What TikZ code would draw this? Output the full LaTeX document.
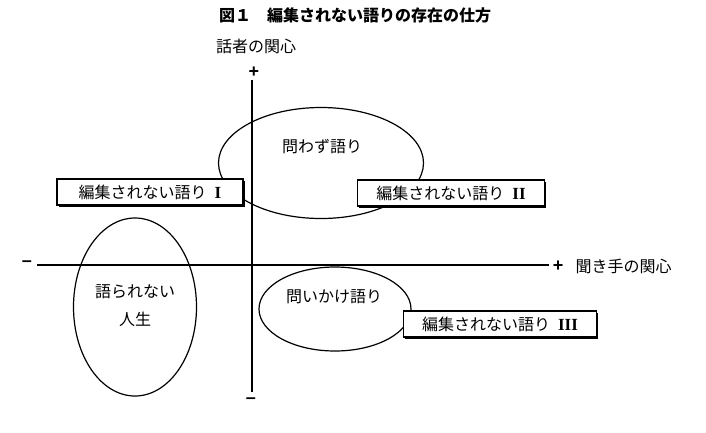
\documentclass[tikz,border=0pt]{standalone}
\usepackage{fontspec}
\newfontfamily\jp{Noto Sans CJK JP}
\newfontfamily\romfont{Liberation Serif}
\newfontfamily\signfont{Liberation Sans}
\usepackage{tikz}
\usetikzlibrary{shapes.geometric, shadows, positioning}
\newcommand{\rom}[1]{{\romfont\bfseries\fontsize{17}{18}\selectfont #1}}

\begin{document}
\begin{tikzpicture}[x=1pt, y=-1pt,
        txt/.style={font=\jp\fontsize{16}{18}\selectfont, inner sep=0pt},
        sign/.style={font=\signfont\bfseries\fontsize{18}{18}\selectfont, inner sep=0pt},
        oval/.style={ellipse, draw, line width=1.2pt, inner sep=0pt},
        namebox/.style={rectangle, draw, line width=1.1pt, fill=white, minimum height=26pt, inner sep=0pt,
            font=\jp\fontsize{16}{18}\selectfont,
            drop shadow={shadow xshift=1.8pt, shadow yshift=-1.8pt, fill=black, opacity=1}},
        axis/.style={draw, line width=1.5pt}]

        \useasboundingbox (0,0) rectangle (706,432);

        % Titel und Achsenbeschriftung
        \node [txt, font=\jp\bfseries\fontsize{16}{18}\selectfont] (title) at (355,15) {図１\quad 編集されない語りの存在の仕方};
        \node [txt] (ylabel) at (256,46) {話者の関心};
        \node [sign] (yplus) at (254,72) {+};
        \node [sign] (yminus) at (251,401) {–};
        \node [sign] (xminus) at (27,264) {–};
        \node [sign] (xplus) at (558,266) {+};
        \node [txt, right=12pt of xplus] (xlabel) {聞き手の関心};

        % Achsen
        \coordinate (ytop) at (252,80);
        \coordinate (ybot) at (252,392);
        \coordinate (xleft) at (37,265);
        \coordinate (xright) at (549,265);
        \path [axis] (ytop) -- (ybot);
        \path [axis] (xleft) -- (xright);

        % Ellipsen
        \node [oval, minimum width=205pt, minimum height=111pt] (towazu) at (321,163) {};
        \node [txt] (towazutext) at (322,147) {問わず語り};
        \node [oval, minimum width=123pt, minimum height=178pt] (katararenai) at (135,307) {};
        \node [txt, align=center] (katararenaitext) at (135,306) {語られない\\[10pt]人生};
        \node [oval, minimum width=152pt, minimum height=84pt] (toikake) at (335,309) {};
        \node [txt] (toikaketext) at (334,297) {問いかけ語り};

        % Kaesten
        \node [namebox, minimum width=186pt] (box1) at (150,192) {編集されない語り\enspace\rom{I}};
        \node [namebox, minimum width=187pt] (box2) at (451,193) {編集されない語り\enspace\rom{II}};
        \node [namebox, minimum width=193pt] (box3) at (500,324) {編集されない語り\enspace\rom{III}};
    \end{tikzpicture}
\end{document}
